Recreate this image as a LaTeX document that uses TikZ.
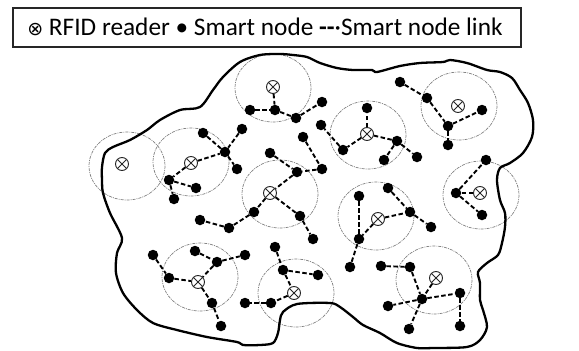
\documentclass[tikz,border=0pt]{standalone}
\usepackage{fontspec}
\setmainfont{Carlito}
\newfontfamily\dvfont{DejaVu Sans}
\begin{document}
\begin{tikzpicture}[x=1pt,y=-1pt,
  sn/.style={circle, fill=black, inner sep=0pt, minimum size=10.5pt},
  rd/.style={circle, draw=black!85, fill=white, line width=0.9pt, inner sep=0pt, minimum size=13pt,
    path picture={\draw[line width=0.9pt, black!85] (path picture bounding box.center) +(-4.6pt,-4.6pt) -- +(4.6pt,4.6pt)
       (path picture bounding box.center) +(-4.6pt,4.6pt) -- +(4.6pt,-4.6pt);}},
  lnk/.style={line width=1.9pt, dash pattern=on 4.5pt off 2.5pt},
  rng/.style={draw=black!50, line width=0.7pt, dash pattern=on 3pt off 1pt on 1pt off 1pt},
  border/.style={line width=2.3pt, line join=round},
  legbox/.style={draw=black!85, line width=1.6pt}
]
\useasboundingbox (0,0) rectangle (579,351);
% legend
\draw[legbox] (13,8) rectangle (521,47);
\node[anchor=base, inner sep=0pt] (leg) at (265,35) {\fontsize{25.3}{28}\selectfont{\dvfont\fontsize{19}{19}\selectfont ⊗} RFID reader • Smart node \textbf{\mbox{-}\mbox{-}}·Smart node link};
% range circles
\foreach \p in {(127,166),(191,162),(273,88),(368,135),(280,194),(376,216),(481,195),(459,106),(200,277),(296,293),(434,280)}
  \draw[rng] \p ellipse (38 and 34);
% boundary
\draw[border] plot[smooth cycle, tension=0.5] coordinates {
(240,62) (260,55) (280,54) (293,55) (307,57) (320,63) (337,68) (353,70) (372,70) (377,72) (400,66) (420,63) (443,62) (450,60) (467,63) (487,70) (500,72) (512,78) (520,90) (528,103) (533,120) (532,137) (523,153) (510,163) (500,168) (497,180) (500,200) (505,213) (505,227) (502,243) (498,255) (487,263) (478,272) (480,283) (480,300) (483,310) (487,327) (480,340) (467,347) (433,348) (417,348) (397,343) (380,333) (363,325) (353,317) (340,307) (330,303) (297,304) (283,312) (280,320) (278,333) (273,343) (260,345) (243,345) (237,342) (207,337) (177,330) (153,323) (137,310) (123,293) (116,273) (117,253) (122,238) (110,213) (103,193) (102,180) (102,167) (105,153) (113,147) (130,140) (147,130) (160,120) (180,110) (200,107) (213,90) (223,77)};
% readers
\node[rd] (r1) at (122,164) {};
\node[rd] (r2) at (191,163) {};
\node[rd] (r3) at (273,87) {};
\node[rd] (r4) at (367,134) {};
\node[rd] (r5) at (270,193) {};
\node[rd] (r6) at (378,219) {};
\node[rd] (r7) at (480,193) {};
\node[rd] (r8) at (458,106) {};
\node[rd] (r9) at (198,282) {};
\node[rd] (r10) at (294,293) {};
\node[rd] (r11) at (436,278) {};
% smart nodes
\foreach \n/\x/\y in {a1/203/133,a2/242/129,a3/225/152,a4/237/169,a5/169/180,a6/196/188,a7/174/199,
  b1/250/110,b2/275/110,b3/296/118,b4/322/102,
  c1/367/108,c2/343/150,c3/321/125,c4/397/141,c5/384/160,c6/417/157,
  d1/303/137,d2/322/169,d3/270/153,d4/297/172,
  f1/254/212,f2/229/228,f3/200/220,f4/300/216,f5/313/239,
  g1/359/196,g2/388/188,g3/410/212,g4/431/227,g5/359/239,g6/350/267,
  h1/486/160,h2/456/193,h3/482/215,
  i1/400/82,i2/427/98,i3/448/126,i4/482/110,i5/448/145,
  j1/153/255,j2/169/278,j3/195/251,j4/217/262,j5/245/255,j6/212/303,j7/221/326,
  k1/275/247,k2/283/270,k3/318/275,k4/271/303,k5/245/303,
  l1/381/266,l2/410/267,l3/422/299,l4/460/293,l5/388/306,l6/409/329,l7/460/326}
  \node[sn] (\n) at (\x,\y) {};
% links
\foreach \u/\v in {r2/a3,a1/a3,a2/a3,a3/a4,r2/a5,a5/a6,a5/a7,
  r3/b2,b1/b2,b2/b3,b3/b4,
  r4/c1,r4/c2,c2/c3,r4/c4,c4/c5,c4/c6,
  d1/d2,d2/d4,d3/d4,d4/r5,
  r5/f1,f1/f2,f2/f3,r5/f4,f4/f5,
  g1/g5,r6/g5,g5/g6,r6/g3,g2/g3,g3/g4,
  r7/h2,h2/h1,h2/h3,
  i1/i2,i2/i3,i3/i4,i3/i5,
  j1/j2,j2/r9,j3/j4,j4/j5,j4/r9,r9/j6,j6/j7,
  k1/k2,k2/k3,k2/r10,r10/k4,k4/k5,
  l1/l2,l2/l3,r11/l3,l3/l4,l3/l5,l3/l6,l4/l7}
  \draw[lnk] (\u) -- (\v);
\end{tikzpicture}
\end{document}
